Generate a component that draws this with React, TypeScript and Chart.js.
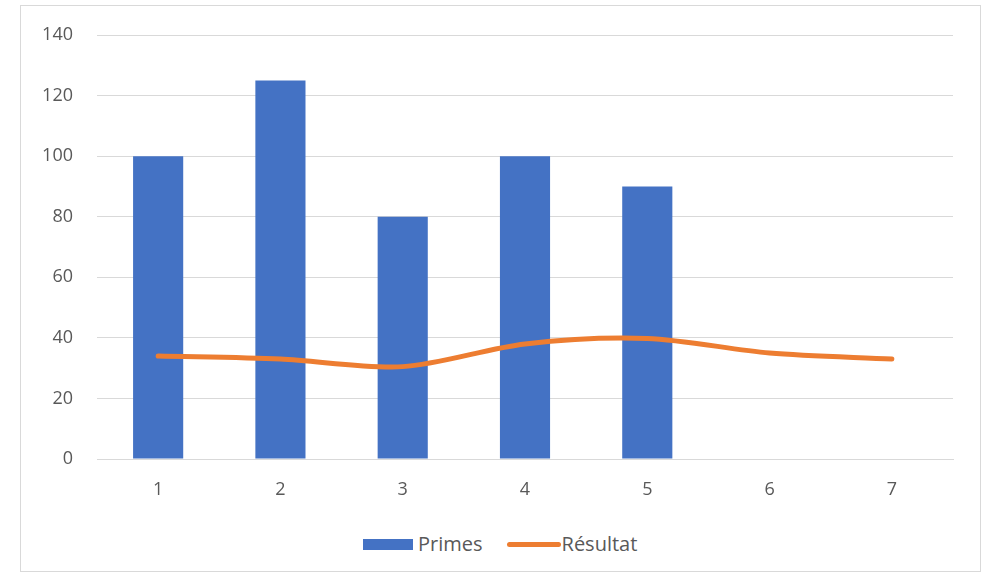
import React, { useEffect, useRef } from "react";
import { Chart, registerables } from "chart.js";

Chart.register(...registerables);

const categories = ["1", "2", "3", "4", "5", "6", "7"];
const primes = [100, 125, 80, 100, 90, null, null];
const resultat = [34, 33, 30.5, 38, 39.8, 35, 33];
const yTicks = [0, 20, 40, 60, 80, 100, 120, 140];

const BLUE = "#4472C4";
const ORANGE = "#ED7D31";
const TEXT = "#595959";
const GRID = "#d9d9d9";
const FONT = "'Open Sans', 'Noto Sans', sans-serif";

export default function App() {
  const ref = useRef<HTMLCanvasElement | null>(null);

  useEffect(() => {
    if (!ref.current) return;
    const chart = new Chart(ref.current, {
      type: "bar",
      data: {
        labels: categories,
        datasets: [
          {
            type: "line",
            label: "Résultat",
            data: resultat,
            borderColor: ORANGE,
            backgroundColor: ORANGE,
            borderWidth: 5,
            pointRadius: 0,
            tension: 0.3,
            borderCapStyle: "round",
            order: 0,
          },
          {
            type: "bar",
            label: "Primes",
            data: primes,
            backgroundColor: BLUE,
            categoryPercentage: 1,
            barPercentage: 0.41,
            order: 1,
          },
        ],
      },
      options: {
        responsive: false,
        animation: false,
        layout: { padding: { top: 29, right: 26, left: 0, bottom: 0 } },
        plugins: { legend: { display: false }, tooltip: { enabled: false } },
        scales: {
          x: {
            grid: { display: false, drawTicks: false },
            border: { display: true, color: GRID, width: 1 },
            ticks: { color: TEXT, font: { family: FONT, size: 18 }, padding: 20 },
            afterFit: (s: any) => {
              s.height = 47;
              s.paddingLeft = 0;
              s.paddingRight = 0;
            },
          },
          y: {
            min: 0,
            max: 140,
            afterBuildTicks: (s: any) => {
              s.ticks = yTicks.map((v) => ({ value: v }));
            },
            grid: { color: GRID, lineWidth: 1, drawTicks: false },
            border: { display: false },
            ticks: { color: TEXT, font: { family: FONT, size: 18 }, padding: 24 },
            afterFit: (s: any) => {
              s.width = 76;
              s.paddingTop = 0;
              s.paddingBottom = 0;
            },
          },
        },
      },
    });
    return () => chart.destroy();
  }, []);

  return (
    <div
      style={{
        position: "absolute",
        left: 20,
        top: 5,
        width: 961,
        height: 567,
        boxSizing: "border-box",
        border: "1px solid #d9d9d9",
        background: "#fff",
        fontFamily: FONT,
      }}
    >
      <canvas
        ref={ref}
        width={958}
        height={500}
        style={{ position: "absolute", left: 0, top: 0, width: 958, height: 500 }}
      />
      <div
        style={{
          position: "absolute",
          left: 342,
          top: 525,
          display: "flex",
          alignItems: "center",
          color: TEXT,
          fontSize: 20,
          lineHeight: "26px",
          whiteSpace: "nowrap",
        }}
      >
        <span style={{ display: "inline-block", width: 50, height: 11, background: BLUE, marginRight: 5 }} />
        <span>Primes</span>
        <span
          style={{
            display: "inline-block",
            width: 54,
            height: 5,
            borderRadius: 3,
            background: ORANGE,
            marginLeft: 24,
            marginRight: 1,
          }}
        />
        <span>Résultat</span>
      </div>
    </div>
  );
}
